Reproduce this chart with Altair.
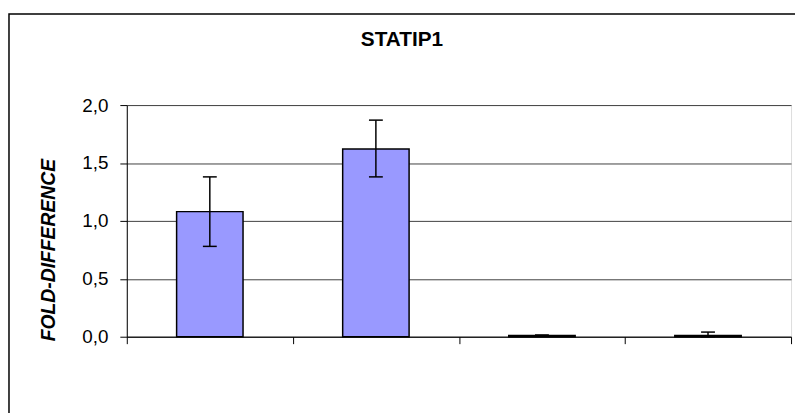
import altair as alt
import pandas as pd

# ---- data ----
categories = ["1", "2", "3", "4"]
values = [1.08, 1.62, 0.01, 0.01]
err_low = [0.78, 1.38, 0.005, 0.0]
err_high = [1.38, 1.87, 0.015, 0.04]
y_ticks = [0.0, 0.5, 1.0, 1.5, 2.0]
x_ticks = [0, 1, 2, 3, 4]

df = pd.DataFrame({
    "cat": categories,
    "idx": list(range(len(categories))),
    "value": values,
    "lo": err_low,
    "hi": err_high,
})

FONT = "Liberation Sans"

xscale = alt.Scale(domain=[0, len(categories)], nice=False, zero=False)
yscale = alt.Scale(domain=[0, 2], nice=False)

xaxis = alt.Axis(values=x_ticks, labels=False, title=None, grid=False,
                 domainColor="black", tickColor="black", tickSize=7,
                 domainWidth=1, tickWidth=1)
yaxis = alt.Axis(values=y_ticks, title="FOLD-DIFFERENCE",
                 labelExpr="replace(format(datum.value, '.1f'), '.', ',')",
                 labelFont=FONT, labelFontSize=19, labelColor="black",
                 labelPadding=12, tickSize=7, tickColor="black",
                 domainColor="black", domainWidth=1,
                 grid=True, gridColor="#404040", gridWidth=1,
                 titleFont=FONT, titleFontSize=19.5, titleFontWeight="bold",
                 titleFontStyle="italic", titleColor="black",
                 titleX=-73, titleY=146, titleAlign="center",
                 titleBaseline="alphabetic")

base = alt.Chart(df).transform_calculate(
    x0="datum.idx + 0.3", x1="datum.idx + 0.7", xc="datum.idx + 0.5"
)

bars = base.mark_bar(fill="#9999FF", stroke="black", strokeWidth=1.5).encode(
    x=alt.X("x0:Q", scale=xscale, axis=xaxis, title=None),
    x2="x1:Q",
    y=alt.Y("value:Q", scale=yscale, axis=yaxis, title="FOLD-DIFFERENCE"),
    y2=alt.datum(0),
)

err_rule = base.mark_rule(color="black", strokeWidth=1.5).encode(
    x=alt.X("xc:Q", scale=xscale, axis=xaxis, title=None),
    y=alt.Y("lo:Q", scale=yscale, axis=yaxis, title="FOLD-DIFFERENCE"),
    y2="hi:Q",
)
cap_hi = base.mark_tick(orient="horizontal", size=14, thickness=1.5, color="black", opacity=1).encode(
    x=alt.X("xc:Q", scale=xscale, axis=xaxis, title=None),
    y=alt.Y("hi:Q", scale=yscale, axis=yaxis, title="FOLD-DIFFERENCE"),
)
cap_lo = base.mark_tick(orient="horizontal", size=14, thickness=1.5, color="black", opacity=1).encode(
    x=alt.X("xc:Q", scale=xscale, axis=xaxis, title=None),
    y=alt.Y("lo:Q", scale=yscale, axis=yaxis, title="FOLD-DIFFERENCE"),
)

frame = alt.Chart(pd.DataFrame({"a": [0]})).mark_rect(
    fill=None, stroke="black", strokeWidth=1.5, clip=False
).encode(
    x=alt.value(-119), x2=alt.value(700), y=alt.value(-92), y2=alt.value(400)
)

chart = alt.layer(bars, err_rule, cap_hi, cap_lo, frame).properties(
    width=671, height=234,
    autosize=alt.AutoSizeParams(type="none"),
    padding={"left": 120, "top": 96, "right": 4, "bottom": 75},
    title=alt.TitleParams("STATIP1", font=FONT, fontSize=21, fontWeight="bold",
                          color="black", anchor="middle", frame="group",
                          dx=-57.5, offset=-54.5, baseline="alphabetic"),
).configure_view(stroke="#808080", strokeWidth=1).configure(background="white")

chart.save("out.html", embed_options={"renderer": "svg", "actions": False})
